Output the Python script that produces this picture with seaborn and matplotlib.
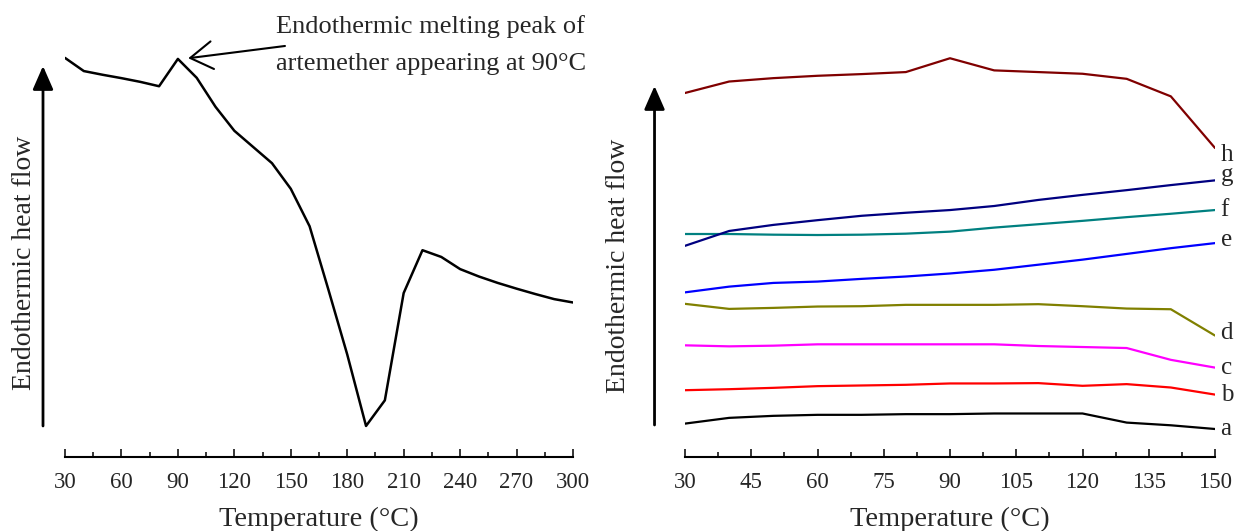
import seaborn as sns
import matplotlib
matplotlib.use('Agg')
import matplotlib.pyplot as plt
import pandas as pd
from matplotlib.ticker import MultipleLocator

# left panel: DSC of pure artemether (arbitrary heat flow units)
temp_left = [30, 40, 50, 60, 70, 80, 90, 100, 110, 120, 130, 140, 150, 160,
             170, 180, 190, 200, 210, 220, 230, 240, 250, 260, 270, 280, 290, 300]
flow_left = [118.3, 114.4, 113.3, 112.3, 111.2, 109.9, 118.0, 112.4, 103.8, 96.7,
             91.9, 87.1, 79.5, 68.4, 49.6, 30.4, 9.2, 16.8, 48.6, 61.3, 59.3,
             55.7, 53.5, 51.6, 49.9, 48.3, 46.8, 45.8]

# right panel: formulations a-h
temp_right = [30, 40, 50, 60, 70, 80, 90, 100, 110, 120, 130, 140, 150]
curve_h = [107.9, 111.3, 112.3, 113.0, 113.5, 114.1, 118.2, 114.6, 114.1, 113.6, 112.1, 106.9, 91.6]
curve_g = [62.6, 67.0, 68.8, 70.2, 71.5, 72.4, 73.2, 74.4, 76.2, 77.7, 79.1, 80.6, 82.0]
curve_f = [66.1, 66.1, 65.9, 65.8, 65.9, 66.2, 66.8, 68.0, 69.0, 70.0, 71.1, 72.1, 73.2]
curve_e = [48.8, 50.5, 51.6, 52.0, 52.8, 53.5, 54.4, 55.5, 57.0, 58.5, 60.2, 61.9, 63.4]
curve_d = [45.4, 43.9, 44.2, 44.6, 44.7, 45.1, 45.1, 45.1, 45.3, 44.7, 44.0, 43.8, 36.0]
curve_c = [33.1, 32.8, 33.0, 33.4, 33.4, 33.4, 33.4, 33.4, 32.9, 32.6, 32.3, 28.8, 26.5]
curve_b = [19.8, 20.1, 20.5, 21.0, 21.2, 21.4, 21.8, 21.8, 21.9, 21.1, 21.6, 20.6, 18.5]
curve_a = [9.9, 11.6, 12.2, 12.5, 12.5, 12.7, 12.7, 12.9, 12.9, 12.9, 10.2, 9.4, 8.3]

curve_names = ['a', 'b', 'c', 'd', 'e', 'f', 'g', 'h']
curve_values = [curve_a, curve_b, curve_c, curve_d, curve_e, curve_f, curve_g, curve_h]
colors = {'a': '#000000', 'b': '#ff0000', 'c': '#ff00ff', 'd': '#808000',
          'e': '#0000ff', 'f': '#008080', 'g': '#000080', 'h': '#800000'}
label_nudge = {'h': -5, 'g': 4, 'e': 2, 'd': 2}
peak_temp = 90

sns.set_theme(style='white')
plt.rcParams['font.family'] = ['Liberation Serif', 'DejaVu Serif']

df_left = pd.DataFrame({'Temperature': temp_left, 'Flow': flow_left})
df_right = pd.DataFrame({
    'Temperature': temp_right * len(curve_names),
    'Flow': sum(curve_values, []),
    'Sample': [n for n in curve_names for _ in temp_right],
})

fig = plt.figure(figsize=(12.36, 5.31), dpi=100)
ax1 = fig.add_axes([65 / 1236, 74 / 531, 508 / 1236, 447 / 531])
ax2 = fig.add_axes([685 / 1236, 74 / 531, 530 / 1236, 447 / 531])

sns.lineplot(df_left, x='Temperature', y='Flow', color='black', lw=1.8, ax=ax1)
sns.lineplot(df_right, x='Temperature', y='Flow', hue='Sample', palette=colors,
             lw=1.6, legend=False, ax=ax2)

def style_axis(ax, xmin, xmax, major, arrow_x, arrow_y0, arrow_y1, ylab_xy):
    ax.set_xlim(xmin, xmax)
    ax.set_ylim(0, 132.5)
    for s in ['left', 'right', 'top']:
        ax.spines[s].set_visible(False)
    ax.spines['bottom'].set_linewidth(1.5)
    ax.spines['bottom'].set_color('black')
    ax.set_yticks([])
    ax.xaxis.set_major_locator(MultipleLocator(major))
    ax.xaxis.set_minor_locator(MultipleLocator(major / 2))
    ax.tick_params(axis='x', which='major', direction='in', length=6, width=1.1,
                   color='black', bottom=True, labelsize=16.5, pad=11)
    ax.tick_params(axis='x', which='minor', direction='in', length=3.5, width=1.1,
                   color='black', bottom=True)
    ax.set_xlabel('Temperature (°C)', fontsize=20.5, labelpad=10)
    ax.set_ylabel('Endothermic heat flow', fontsize=20, va='center')
    ax.yaxis.set_label_coords(*ylab_xy)
    ax.annotate('', xy=(arrow_x, arrow_y1), xytext=(arrow_x, arrow_y0),
                xycoords='axes fraction', annotation_clip=False,
                arrowprops=dict(arrowstyle='-|>,head_length=0.8,head_width=0.35',
                                mutation_scale=18, lw=2, color='black',
                                shrinkA=0, shrinkB=0))

style_axis(ax1, 30, 300, 30, -0.0433, 0.0694, 0.8747, (-0.0807, 0.434))
style_axis(ax2, 30, 150, 15, -0.0575, 0.0716, 0.830, (-0.1264, 0.427))

# annotation of the artemether melting peak
peak_i = temp_left.index(peak_temp)
ax1.annotate('', xy=(temp_left[peak_i] + 5.5, flow_left[peak_i] + 0.2),
             xytext=(0.433, 0.9195), textcoords='axes fraction',
             arrowprops=dict(arrowstyle='->,head_length=0.8,head_width=0.5',
                             mutation_scale=20, lw=1.5, color='black',
                             shrinkA=0, shrinkB=0))
ax1.text(0.4154, 0.922, 'Endothermic melting peak of\nartemether appearing at 90°C',
         transform=ax1.transAxes, ha='left', va='center', fontsize=19,
         linespacing=1.85, clip_on=False)

for name, vals in zip(curve_names, curve_values):
    ax2.annotate(name, xy=(temp_right[-1], vals[-1]), xytext=(4, label_nudge.get(name, 0)),
                 textcoords='offset points', ha='left', va='center', fontsize=18,
                 annotation_clip=False)

fig.savefig('out.png', dpi=100)
